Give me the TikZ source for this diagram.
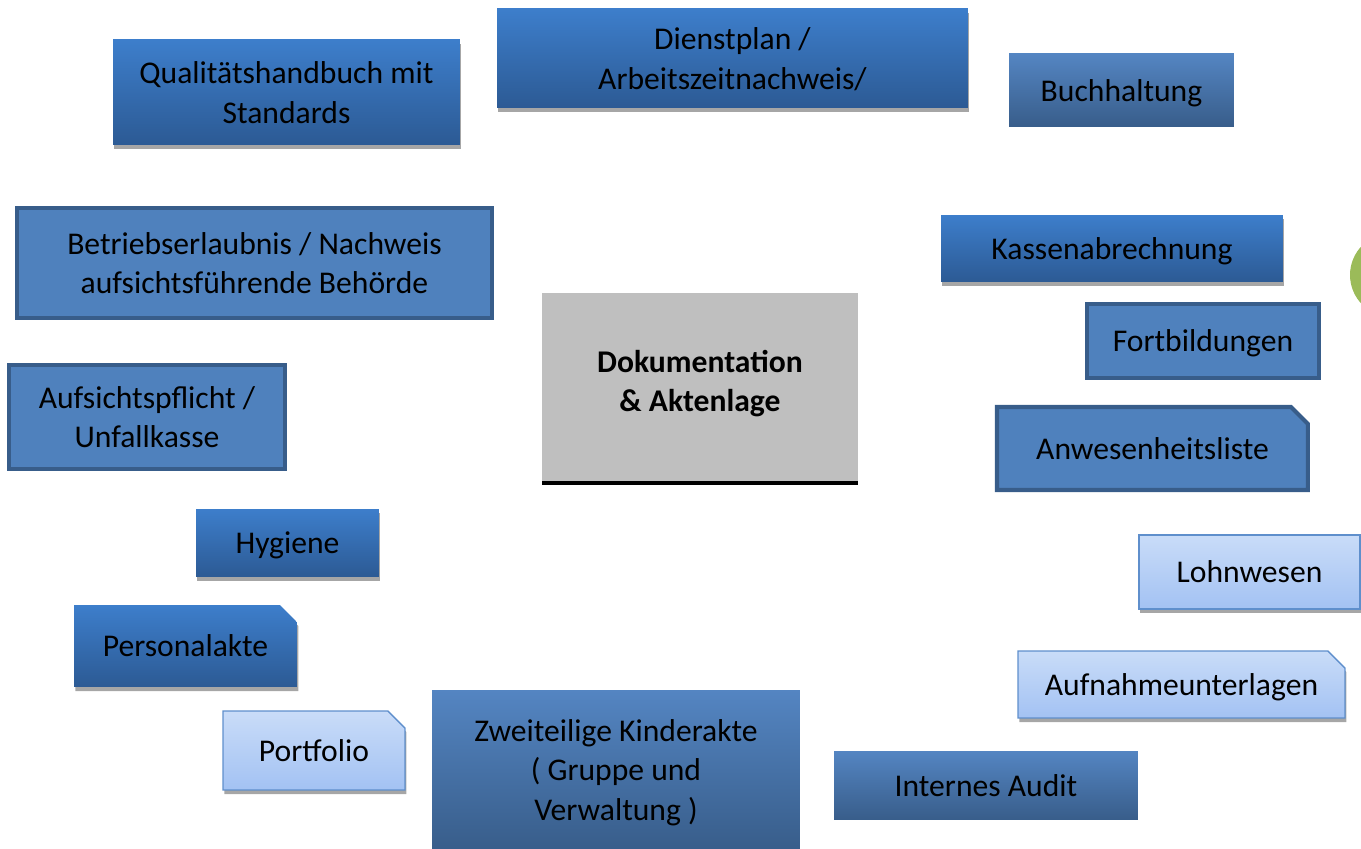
\documentclass[tikz,border=0pt]{standalone}
\usepackage{fontspec}
\setmainfont{Carlito}
\usetikzlibrary{shapes.misc,shadows}
\definecolor{darktop}{HTML}{3D7ECB}
\definecolor{darkbot}{HTML}{2C5A94}
\definecolor{midtop}{HTML}{5485C2}
\definecolor{midbot}{HTML}{385D8A}
\definecolor{flatfill}{HTML}{4F81BD}
\definecolor{flatline}{HTML}{385D8A}
\definecolor{lighttop}{HTML}{C9DCF8}
\definecolor{lightbot}{HTML}{A3C2F3}
\definecolor{lightline}{HTML}{5F8FCC}
\definecolor{centergray}{HTML}{BFBFBF}
\definecolor{circgreen}{HTML}{9BBB59}
\begin{document}
\begin{tikzpicture}[x=0.02cm,y=-0.02cm,
    box/.style={anchor=north west,outer sep=0pt,inner sep=2pt,align=center,text depth=0pt,
        font=\fontsize{18}{22.5}\selectfont},
    shade/.style={drop shadow={shadow xshift=0.8pt,shadow yshift=-2.3pt,fill=black!35,opacity=1}},
    darkbox/.style={box,top color=darktop,bottom color=darkbot,draw=none},
    midbox/.style={box,top color=midtop,bottom color=midbot,draw=none},
    flatbox/.style={box,fill=flatfill,draw=flatline,line width=2.3pt},
    lightbox/.style={box,top color=lighttop,bottom color=lightbot,draw=lightline,line width=0.8pt},
    cut/.style={chamfered rectangle,chamfered rectangle corners=north east,
        chamfered rectangle xsep=6.5pt,chamfered rectangle angle=45}]
        \clip (0,0) rectangle (1361,848);

        \node[darkbox,shade,minimum width=6.94cm,minimum height=2.10cm] (qual) at (113,40) {Qualitätshandbuch mit\\Standards};
        \node[darkbox,shade,minimum width=9.42cm,minimum height=1.98cm] (dienst) at (497,9) {Dienstplan /\\Arbeitszeitnachweis/};
        \node[midbox,minimum width=4.50cm,minimum height=1.46cm] (buch) at (1009,54) {Buchhaltung};

        \node[flatbox,minimum width=9.50cm,minimum height=2.20cm] (betrieb) at (17,208) {Betriebserlaubnis / Nachweis\\aufsichtsführende Behörde};
        \node[flatbox,minimum width=5.52cm,minimum height=2.08cm] (aufsicht) at (9,365) {Aufsichtspflicht /\\Unfallkasse};
        \node[darkbox,shade,minimum width=3.66cm,minimum height=1.36cm] (hyg) at (196,509) {Hygiene};
        \node[darkbox,cut,shade,minimum width=4.46cm,minimum height=1.64cm] (personal) at (74,605) {Personalakte};
        \node[lightbox,cut,shade,minimum width=3.64cm,minimum height=1.58cm] (portf) at (223,711) {Portfolio};
        \node[midbox,minimum width=7.36cm,minimum height=3.20cm] (kind) at (432,690) {Zweiteilige Kinderakte\\( Gruppe und\\Verwaltung )};

        \node[box,fill=centergray,minimum width=6.32cm,minimum height=3.80cm,font=\fontsize{18}{22.5}\selectfont\bfseries] (doku) at (542,293) {\raisebox{0.80cm}{\begin{tabular}{c}Dokumentation\\\& Aktenlage\end{tabular}}};
        \draw[line width=1.8pt] (doku.south west) -- (doku.south east);

        \node[darkbox,shade,minimum width=6.84cm,minimum height=1.34cm] (kasse) at (941,215) {Kassenabrechnung};
        \node[flatbox,minimum width=4.64cm,minimum height=1.48cm] (fortb) at (1087,304) {Fortbildungen};
        \node[flatbox,cut,minimum width=6.22cm,minimum height=1.66cm] (anwes) at (997,407) {Anwesenheitsliste};
        \node[lightbox,shade,minimum width=4.42cm,minimum height=1.48cm] (lohn) at (1139,535) {Lohnwesen};
        \node[lightbox,cut,shade,minimum width=6.54cm,minimum height=1.34cm] (aufn) at (1018,651) {Aufnahmeunterlagen};
        \node[midbox,minimum width=6.08cm,minimum height=1.38cm] (audit) at (834,751) {Internes Audit};

        \node[circle,fill=circgreen,minimum size=1.68cm] (kreis) at (1392,275) {};
    \end{tikzpicture}
\end{document}
